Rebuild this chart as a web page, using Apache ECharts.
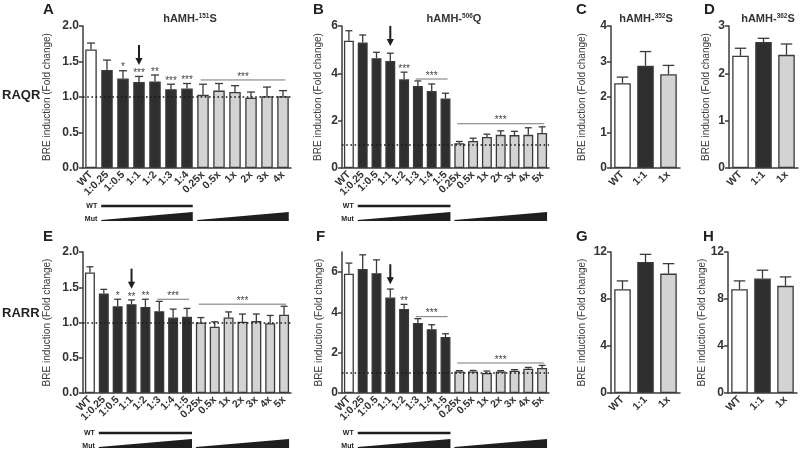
<!DOCTYPE html>
<html><head><meta charset="utf-8">
<script src="https://cdn.jsdelivr.net/npm/echarts@6/dist/echarts.min.js"></script>
<style>html,body{margin:0;padding:0;background:#fff}#c{width:800px;height:449px}</style>
</head><body><div id="c"></div>
<script>
// ---------- data ----------
const catsA = ['WT','1:0.25','1:0.5','1:1','1:2','1:3','1:4','0.25x','0.5x','1x','2x','3x','4x'];
const catsB = ['WT','1:0.25','1:0.5','1:1','1:2','1:3','1:4','1:5','0.25x','0.5x','1x','2x','3x','4x','5x'];
const catsSmall = ['WT','1:1','1x'];

const meanA = [1.67,1.38,1.26,1.21,1.22,1.11,1.12,1.03,1.09,1.07,0.99,1.01,1.01];
const sdA   = [0.09,0.14,0.11,0.08,0.09,0.07,0.07,0.15,0.10,0.09,0.08,0.13,0.08];
const meanB = [5.38,5.30,4.64,4.52,3.75,3.47,3.25,2.94,1.05,1.14,1.31,1.40,1.39,1.40,1.48];
const sdB   = [0.42,0.32,0.25,0.33,0.30,0.21,0.30,0.22,0.07,0.12,0.12,0.17,0.16,0.30,0.26];
const meanC = [2.39,2.88,2.64];
const sdC   = [0.17,0.40,0.25];
const meanD = [2.37,2.66,2.39];
const sdD   = [0.16,0.08,0.23];
const meanE = [1.71,1.41,1.23,1.26,1.22,1.16,1.07,1.08,1.00,0.94,1.07,1.01,1.02,0.99,1.11];
const sdE   = [0.08,0.06,0.10,0.06,0.11,0.14,0.12,0.12,0.07,0.07,0.08,0.11,0.10,0.11,0.12];
const meanF = [5.92,6.15,5.95,4.74,4.17,3.47,3.17,2.78,1.07,1.07,0.99,1.07,1.11,1.21,1.24];
const sdF   = [0.53,0.71,0.66,0.42,0.23,0.22,0.22,0.16,0.04,0.05,0.10,0.04,0.05,0.06,0.13];
const meanG = [8.84,11.15,10.16];
const sdG   = [0.70,0.65,0.85];
const meanH = [8.84,9.74,9.12];
const sdH   = [0.70,0.71,0.76];

// significance marks: [category, text]
const starsA = [['1:0.5','*'],['1:1','***'],['1:2','**'],['1:3','***'],['1:4','***']];
const starsB = [['1:2','***']];
const starsE = [['1:0.5','*'],['1:1','**'],['1:2','**']];
const starsF = [['1:2','**']];
// brackets: [from, to, y value, text]
const bracketsA = [['0.25x','4x',1.24,'***']];
const bracketsB = [['1:3','1:5',3.76,'***'],['0.25x','5x',1.87,'***']];
const bracketsE = [['1:3','1:5',1.33,'***'],['0.25x','5x',1.26,'***']];
const bracketsF = [['1:3','1:5',3.79,'***'],['0.25x','5x',1.49,'***']];
// arrows: [category, tip value]
const arrowA = ['1:1',1.45];
const arrowB = ['1:1',5.16];
const arrowE = ['1:1',1.48];
const arrowF = ['1:1',5.40];
// WT / Mut dose spans
const spansA = [['1:0.25','1:4'],['0.25x','4x']];
const spansB = [['1:0.25','1:5'],['0.25x','5x']];

const titleA = ['hAMH-','151','S'];
const titleB = ['hAMH-','506','Q'];
const titleC = ['hAMH-','352','S'];
const titleD = ['hAMH-','362','S'];

// ---------- layout ----------
const FONT = '"Liberation Sans", Arial, Helvetica, sans-serif';
const panels = [
  {id:'A', cats:catsA, mean:meanA, sd:sdA, max:2, interval:0.5, dec:1, stars:starsA, brackets:bracketsA, arrow:arrowA, spans:spansA, ref:true,
   grid:{left:83, top:26, width:208, height:142}, nameGap:31, wOff:[38,44,53]},
  {id:'B', cats:catsB, mean:meanB, sd:sdB, max:6, interval:2, dec:0, stars:starsB, brackets:bracketsB, arrow:arrowB, spans:spansB, ref:true,
   grid:{left:342, top:26, width:207, height:142}, nameGap:19, wOff:[38,44,53]},
  {id:'C', cats:catsSmall, mean:meanC, sd:sdC, max:4, interval:1, dec:0,
   grid:{left:611, top:26, width:69, height:142}, nameGap:24},
  {id:'D', cats:catsSmall, mean:meanD, sd:sdD, max:3, interval:1, dec:0,
   grid:{left:729, top:26, width:69, height:142}, nameGap:18},
  {id:'E', cats:catsB, mean:meanE, sd:sdE, max:2, interval:0.5, dec:1, stars:starsE, brackets:bracketsE, arrow:arrowE, spans:spansB, ref:true,
   grid:{left:83, top:252, width:208, height:141}, nameGap:31, wOff:[40,46,55]},
  {id:'F', cats:catsB, mean:meanF, sd:sdF, max:7, interval:2, ticks:[0,2,4,6], dec:0, stars:starsF, brackets:bracketsF, arrow:arrowF, spans:spansB, ref:true,
   grid:{left:342, top:252, width:207, height:141}, nameGap:18, wOff:[40,46,55]},
  {id:'G', cats:catsSmall, mean:meanG, sd:sdG, max:12, interval:4, dec:0,
   grid:{left:611, top:252, width:69, height:141}, nameGap:24},
  {id:'H', cats:catsSmall, mean:meanH, sd:sdH, max:12, interval:4, dec:0,
   grid:{left:728, top:252, width:69, height:141}, nameGap:18}
];

const AX = '#3c3c3c';
const BAR_FRAC = 0.72;
function barColor(c){ return c==='WT' ? '#ffffff' : (c.indexOf(':')>=0 ? '#2f2f2f' : '#d3d3d3'); }

const grids=[], xAxes=[], yAxes=[], series=[];
panels.forEach((p,i)=>{
  grids.push(Object.assign({containLabel:false}, p.grid));
  xAxes.push({type:'category', gridIndex:i, data:p.cats,
    axisLine:{lineStyle:{color:AX, width:1.5}},
    axisTick:{alignWithLabel:true, length:4, lineStyle:{color:AX, width:1.5}},
    axisLabel:{rotate:45, interval:0, margin:5, fontSize:10.5, fontWeight:'bold', color:'#333', fontFamily:FONT}});
  const yl = {rotate:0, margin:4, fontSize:12, fontWeight:'bold', color:'#333', fontFamily:FONT,
    formatter:v=>v.toFixed(p.dec)};
  const yt = {show:true, length:4, lineStyle:{color:AX, width:1.5}};
  if (p.ticks){ yl.customValues = p.ticks; yt.customValues = p.ticks; }
  yAxes.push({type:'value', gridIndex:i, min:0, max:p.max, interval:p.interval,
    axisLine:{show:true, lineStyle:{color:AX, width:1.5}}, axisTick:yt, axisLabel:yl, splitLine:{show:false},
    name:'BRE induction (Fold change)', nameLocation:'middle', nameGap:p.nameGap,
    nameTextStyle:{fontSize:10, color:'#3a3a3a', fontFamily:FONT}});

  // reference line behind bars
  if (p.ref){
    series.push({type:'line', xAxisIndex:i, yAxisIndex:i, data:[], silent:true, z:1,
      markLine:{silent:true, symbol:'none', label:{show:false}, animation:false,
        lineStyle:{type:[1.6,2.6], color:'#1a1a1a', width:1.5}, data:[{yAxis:1}]}});
  }
  // bars
  series.push({type:'bar', xAxisIndex:i, yAxisIndex:i, barWidth:(BAR_FRAC*100)+'%', z:2, animation:false,
    data:p.mean.map((v,j)=>({value:v, itemStyle:{color:barColor(p.cats[j])}})),
    itemStyle:{borderColor:'#3a3a3a', borderWidth:1.3}});
  // error bars
  series.push({type:'custom', xAxisIndex:i, yAxisIndex:i, z:3, clip:false, animation:false,
    data:p.mean.map((v,j)=>[j, v, v+p.sd[j]]),
    encode:{x:0, y:[1,2]},
    renderItem:(params, api)=>{
      const a = api.coord([api.value(0), api.value(1)]);
      const b = api.coord([api.value(0), api.value(2)]);
      const hw = api.size([1,0])[0]*0.25;
      const st = {stroke:'#3a3a3a', lineWidth:1.3};
      return {type:'group', children:[
        {type:'line', shape:{x1:a[0], y1:a[1], x2:b[0], y2:b[1]}, style:st},
        {type:'line', shape:{x1:b[0]-hw, y1:b[1], x2:b[0]+hw, y2:b[1]}, style:st}]};
    }});
  // stars
  if (p.stars){
    series.push({type:'custom', xAxisIndex:i, yAxisIndex:i, z:4, clip:false, animation:false,
      data:p.stars.map(s=>{const j=p.cats.indexOf(s[0]); return [j, p.mean[j]+p.sd[j]];}),
      encode:{x:0, y:1},
      renderItem:(params, api)=>{
        const c = api.coord([api.value(0), api.value(1)]);
        return {type:'text', style:{text:p.stars[params.dataIndex][1], x:c[0], y:c[1]-3,
          align:'center', verticalAlign:'middle', fill:'#444', font:'10px '+FONT}};
      }});
  }
  // brackets
  if (p.brackets){
    series.push({type:'custom', xAxisIndex:i, yAxisIndex:i, z:4, clip:false, animation:false,
      data:p.brackets.map(b=>[p.cats.indexOf(b[0]), p.cats.indexOf(b[1]), b[2]]),
      encode:{x:[0,1], y:2},
      renderItem:(params, api)=>{
        const a = api.coord([api.value(0), api.value(2)]);
        const b = api.coord([api.value(1), api.value(2)]);
        const ext = api.size([1,0])[0]*0.15;
        return {type:'group', children:[
          {type:'line', shape:{x1:a[0]-ext, y1:a[1], x2:b[0]+ext, y2:b[1]}, style:{stroke:'#777', lineWidth:1}},
          {type:'text', style:{text:p.brackets[params.dataIndex][3], x:(a[0]+b[0])/2, y:a[1]-3,
            align:'center', verticalAlign:'middle', fill:'#444', font:'10px '+FONT}}]};
      }});
  }
  // arrow
  if (p.arrow){
    series.push({type:'custom', xAxisIndex:i, yAxisIndex:i, z:4, clip:false, animation:false,
      data:[[p.cats.indexOf(p.arrow[0]), p.arrow[1]]],
      encode:{x:0, y:1},
      renderItem:(params, api)=>{
        const t = api.coord([api.value(0), api.value(1)]);
        const L = 20, hl = 7, hw = 3.6;
        return {type:'group', children:[
          {type:'line', shape:{x1:t[0], y1:t[1]-L, x2:t[0], y2:t[1]-hl+1}, style:{stroke:'#1e1e1e', lineWidth:2}},
          {type:'polygon', shape:{points:[[t[0]-hw,t[1]-hl],[t[0]+hw,t[1]-hl],[t[0],t[1]]]}, style:{fill:'#1e1e1e'}}]};
      }});
  }
  // WT / Mut dose indicators under the axis
  if (p.spans){
    const off = p.wOff;
    series.push({type:'custom', xAxisIndex:i, yAxisIndex:i, z:4, clip:false, animation:false,
      data:p.spans.map((s,k)=>[p.cats.indexOf(s[0]), p.cats.indexOf(s[1]), 0, k]),
      encode:{x:[0,1], y:2},
      renderItem:(params, api)=>{
        const a = api.coord([api.value(0), 0]);
        const b = api.coord([api.value(1), 0]);
        const hb = api.size([1,0])[0]*BAR_FRAC/2;
        const x1 = a[0]-hb, x2 = b[0]+hb, y0 = a[1];
        const kids = [
          {type:'polygon', shape:{points:[[x1,y0+off[2]-1],[x2,y0+off[1]],[x2,y0+off[2]],[x1,y0+off[2]]]}, style:{fill:'#1e1e1e'}}];
        if (api.value(3)===0){
          kids.push({type:'rect', shape:{x:x1, y:y0+off[0]-1.3, width:x2-x1, height:2.6}, style:{fill:'#1e1e1e'}});
          kids.push({type:'text', style:{text:'WT', x:x1-4, y:y0+off[0], align:'right', verticalAlign:'middle', fill:'#222', font:'bold 7px '+FONT}});
          kids.push({type:'text', style:{text:'Mut', x:x1-4, y:y0+off[2]-2, align:'right', verticalAlign:'middle', fill:'#222', font:'bold 7px '+FONT}});
        }
        return {type:'group', children:kids};
      }});
  }
});

// ---------- texts ----------
function titleText(t, x){
  return {type:'text', x:x, y:19, style:{text:t[0]+'{s|'+t[1]+'}'+t[2], align:'center', verticalAlign:'middle',
    font:'bold 11px '+FONT, fill:'#333',
    rich:{s:{fontSize:6.5, fontWeight:'bold', fontFamily:FONT, fill:'#333', verticalAlign:'top', padding:[0,0,5,0]}}}};
}
function letter(t, x, y){ return {type:'text', x:x, y:y, style:{text:t, font:'bold 15px '+FONT, fill:'#222', verticalAlign:'top'}}; }
const graphics = [
  letter('A',43,2), letter('B',313,2), letter('C',576,2), letter('D',704,2),
  letter('E',43,229), letter('F',316,229), letter('G',576,229), letter('H',703,229),
  titleText(titleA,190), titleText(titleB,454), titleText(titleC,646), titleText(titleD,768),
  {type:'text', x:2, y:95, style:{text:'RAQR', font:'bold 13px '+FONT, fill:'#222', verticalAlign:'middle'}},
  {type:'text', x:2, y:313, style:{text:'RARR', font:'bold 13px '+FONT, fill:'#222', verticalAlign:'middle'}}
];

const chart = echarts.init(document.getElementById('c'), null, {renderer:'canvas'});
chart.setOption({animation:false, backgroundColor:'#fff', grid:grids, xAxis:xAxes, yAxis:yAxes, series:series, graphic:graphics});
</script>
</body></html>
